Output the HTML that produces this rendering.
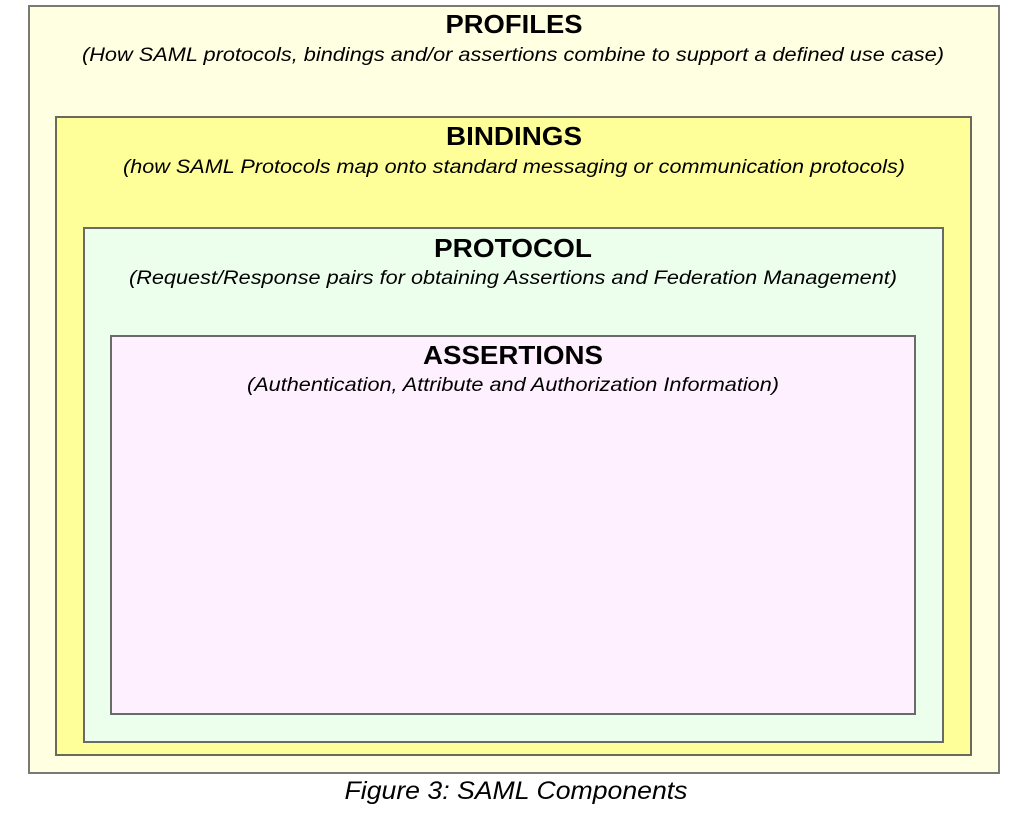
<!DOCTYPE html>
<html><head><meta charset="utf-8"><style>
html,body{margin:0;padding:0;background:#fff;}
svg{display:block;}
text{font-family:"Liberation Sans",Arial,sans-serif;fill:#000;}
.t{font-weight:bold;font-size:26px;}
.s{font-style:italic;font-size:19px;}
</style></head><body>
<svg width="1024" height="818" viewBox="0 0 1024 818">
<g>
<rect x="29" y="6" width="970" height="767" fill="#ffffe2" stroke="#7a7a72" stroke-width="2"/>
<text class="t" x="514" y="33" text-anchor="middle" textLength="137" lengthAdjust="spacingAndGlyphs">PROFILES</text>
<text class="s" x="513" y="61" text-anchor="middle" textLength="862" lengthAdjust="spacingAndGlyphs">(How SAML protocols, bindings and/or assertions combine to support a defined use case)</text>
</g>
<g>
<rect x="56" y="117" width="915" height="638" fill="#ffff99" stroke="#6a6a5a" stroke-width="2"/>
<text class="t" x="514" y="145" text-anchor="middle" textLength="136" lengthAdjust="spacingAndGlyphs">BINDINGS</text>
<text class="s" x="514" y="173" text-anchor="middle" textLength="782" lengthAdjust="spacingAndGlyphs">(how SAML Protocols map onto standard messaging or communication protocols)</text>
</g>
<g>
<rect x="84" y="228" width="859" height="514" fill="#ecffec" stroke="#6a6a6a" stroke-width="2"/>
<text class="t" x="513" y="257" text-anchor="middle" textLength="158" lengthAdjust="spacingAndGlyphs">PROTOCOL</text>
<text class="s" x="513" y="284" text-anchor="middle" textLength="768" lengthAdjust="spacingAndGlyphs">(Request/Response pairs for obtaining Assertions and Federation Management)</text>
</g>
<g>
<rect x="111" y="336" width="804" height="378" fill="#fff0ff" stroke="#6a6a6a" stroke-width="2"/>
<text class="t" x="513" y="364" text-anchor="middle" textLength="180" lengthAdjust="spacingAndGlyphs">ASSERTIONS</text>
<text class="s" x="513" y="391" text-anchor="middle" textLength="532" lengthAdjust="spacingAndGlyphs">(Authentication, Attribute and Authorization Information)</text>
</g>
<text x="516" y="799" text-anchor="middle" font-style="italic" font-size="25" textLength="343" lengthAdjust="spacingAndGlyphs">Figure 3: SAML Components</text>
</svg>
</body></html>
